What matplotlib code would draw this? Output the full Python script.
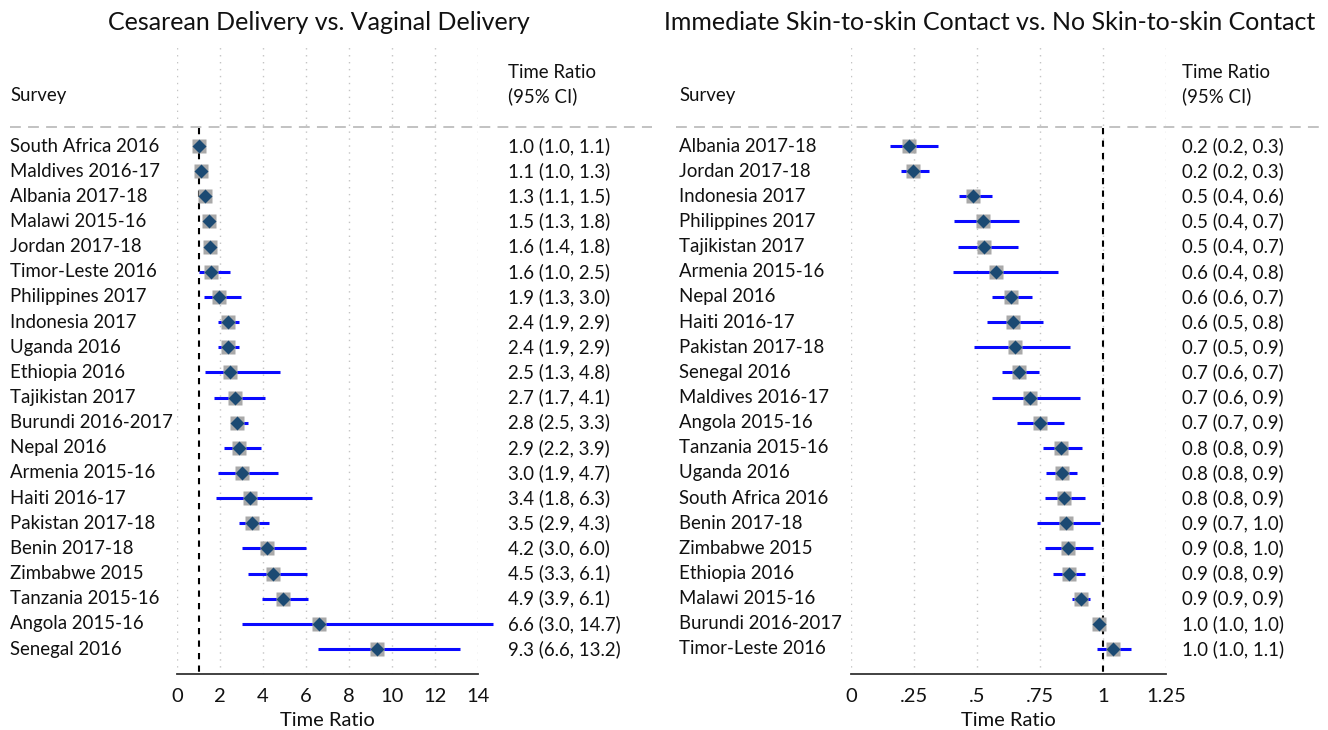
import matplotlib
matplotlib.use("Agg")
import matplotlib.pyplot as plt
import matplotlib.transforms as mtransforms

W, H = 1328, 730

# ---------------- data ----------------
left_surveys = ["South Africa 2016", "Maldives 2016-17", "Albania 2017-18", "Malawi 2015-16",
                "Jordan 2017-18", "Timor-Leste 2016", "Philippines 2017", "Indonesia 2017",
                "Uganda 2016", "Ethiopia 2016", "Tajikistan 2017", "Burundi 2016-2017",
                "Nepal 2016", "Armenia 2015-16", "Haiti 2016-17", "Pakistan 2017-18",
                "Benin 2017-18", "Zimbabwe 2015", "Tanzania 2015-16", "Angola 2015-16",
                "Senegal 2016"]
left_est = [1.04, 1.10, 1.30, 1.50, 1.53, 1.57, 1.94, 2.36, 2.35, 2.48, 2.68, 2.80,
            2.90, 3.00, 3.40, 3.50, 4.20, 4.48, 4.91, 6.62, 9.32]
left_lo = [1.00, 1.00, 1.10, 1.30, 1.40, 1.04, 1.27, 1.92, 1.90, 1.30, 1.70, 2.50,
           2.20, 1.90, 1.80, 2.90, 3.00, 3.32, 3.95, 3.00, 6.57]
left_hi = [1.10, 1.30, 1.50, 1.77, 1.80, 2.47, 2.96, 2.90, 2.90, 4.80, 4.10, 3.30,
           3.90, 4.70, 6.30, 4.30, 6.00, 6.03, 6.10, 14.70, 13.16]
left_ci_text = ["1.0 (1.0, 1.1)", "1.1 (1.0, 1.3)", "1.3 (1.1, 1.5)", "1.5 (1.3, 1.8)",
                "1.6 (1.4, 1.8)", "1.6 (1.0, 2.5)", "1.9 (1.3, 3.0)", "2.4 (1.9, 2.9)",
                "2.4 (1.9, 2.9)", "2.5 (1.3, 4.8)", "2.7 (1.7, 4.1)", "2.8 (2.5, 3.3)",
                "2.9 (2.2, 3.9)", "3.0 (1.9, 4.7)", "3.4 (1.8, 6.3)", "3.5 (2.9, 4.3)",
                "4.2 (3.0, 6.0)", "4.5 (3.3, 6.1)", "4.9 (3.9, 6.1)", "6.6 (3.0, 14.7)",
                "9.3 (6.6, 13.2)"]
left_ticks = [0, 2, 4, 6, 8, 10, 12, 14]
left_ticklabels = ["0", "2", "4", "6", "8", "10", "12", "14"]

right_surveys = ["Albania 2017-18", "Jordan 2017-18", "Indonesia 2017", "Philippines 2017",
                 "Tajikistan 2017", "Armenia 2015-16", "Nepal 2016", "Haiti 2016-17",
                 "Pakistan 2017-18", "Senegal 2016", "Maldives 2016-17", "Angola 2015-16",
                 "Tanzania 2015-16", "Uganda 2016", "South Africa 2016", "Benin 2017-18",
                 "Zimbabwe 2015", "Ethiopia 2016", "Malawi 2015-16", "Burundi 2016-2017",
                 "Timor-Leste 2016"]
right_est = [0.230, 0.246, 0.484, 0.524, 0.528, 0.574, 0.635, 0.643, 0.650, 0.667, 0.710,
             0.750, 0.833, 0.837, 0.845, 0.853, 0.860, 0.865, 0.911, 0.984, 1.040]
right_lo = [0.155, 0.198, 0.430, 0.409, 0.423, 0.404, 0.560, 0.540, 0.490, 0.600, 0.560,
            0.660, 0.760, 0.775, 0.770, 0.740, 0.770, 0.800, 0.877, 0.975, 0.975]
right_hi = [0.345, 0.309, 0.560, 0.667, 0.663, 0.822, 0.720, 0.760, 0.870, 0.746, 0.910,
            0.845, 0.917, 0.897, 0.930, 0.990, 0.960, 0.930, 0.948, 0.990, 1.110]
right_ci_text = ["0.2 (0.2, 0.3)", "0.2 (0.2, 0.3)", "0.5 (0.4, 0.6)", "0.5 (0.4, 0.7)",
                 "0.5 (0.4, 0.7)", "0.6 (0.4, 0.8)", "0.6 (0.6, 0.7)", "0.6 (0.5, 0.8)",
                 "0.7 (0.5, 0.9)", "0.7 (0.6, 0.7)", "0.7 (0.6, 0.9)", "0.7 (0.7, 0.9)",
                 "0.8 (0.8, 0.9)", "0.8 (0.8, 0.9)", "0.8 (0.8, 0.9)", "0.9 (0.7, 1.0)",
                 "0.9 (0.8, 1.0)", "0.9 (0.8, 0.9)", "0.9 (0.9, 0.9)", "1.0 (1.0, 1.0)",
                 "1.0 (1.0, 1.1)"]
right_ticks = [0, 0.25, 0.5, 0.75, 1, 1.25]
right_ticklabels = ["0", ".25", ".5", ".75", "1", "1.25"]

titles = ["Cesarean Delivery vs. Vaginal Delivery",
          "Immediate Skin-to-skin Contact vs. No Skin-to-skin Contact"]

# ---------------- style ----------------
FONT = "Lato"
TXT = "#111111"
FS = 13.4
FS_AX = 14.5
plt.rcParams["font.family"] = [FONT, "DejaVu Sans"]

fig = plt.figure(figsize=(W / 100, H / 100), dpi=100)
fig.patch.set_facecolor("white")

TOP_PX, BOT_PX = 45, 674
ROW0_PX, ROW_STEP = 146, 25.15
y_top = (TOP_PX - ROW0_PX) / ROW_STEP
y_bot = (BOT_PX - ROW0_PX) / ROW_STEP


def ypix(p):
    return (p - ROW0_PX) / ROW_STEP


panels = [
    dict(x0=177, x1=478, xlim=(0, 14), surveys=left_surveys, est=left_est, lo=left_lo,
         hi=left_hi, ci=left_ci_text, ticks=left_ticks, tl=left_ticklabels,
         label_x=10, ci_x=508, dash=(10, 652), title=titles[0], title_x=319),
    dict(x0=851, x1=1166, xlim=(0, 1.25), surveys=right_surveys, est=right_est, lo=right_lo,
         hi=right_hi, ci=right_ci_text, ticks=right_ticks, tl=right_ticklabels,
         label_x=679, ci_x=1182, dash=(676, 1326), title=titles[1], title_x=990),
]

for p in panels:
    ax = fig.add_axes([p["x0"] / W, 1 - BOT_PX / H, (p["x1"] - p["x0"]) / W,
                       (BOT_PX - TOP_PX) / H])
    ax.set_xlim(*p["xlim"])
    ax.set_ylim(y_bot, y_top)
    ax.patch.set_alpha(0)
    for s in ["top", "right", "left"]:
        ax.spines[s].set_visible(False)
    ax.spines["bottom"].set_color("#333333")
    ax.spines["bottom"].set_linewidth(1.3)
    ax.set_yticks([])
    ax.set_xticks(p["ticks"])
    ax.set_xticklabels(p["tl"], fontsize=FS_AX, color=TXT)
    ax.tick_params(axis="x", length=0, pad=10)
    # x-axis title placed at the reference position
    ax.text(0.5, 1 - 726 / H, "Time Ratio", transform=mtransforms.blended_transform_factory(
        ax.transAxes, fig.transFigure), fontsize=FS_AX, color=TXT, ha="center",
        va="baseline")

    for t in p["ticks"]:
        ax.plot([t, t], [y_bot, y_top], color="#c4c4c4", lw=1.0, ls=(0, (1, 4)), zorder=0)

    n = len(p["surveys"])
    ys = list(range(n))
    # reference line at 1
    ax.plot([1, 1], [ypix(128), y_bot], color="black", lw=1.5, ls=(0, (3, 3)), zorder=1)

    ax.hlines(ys, p["lo"], p["hi"], color="#0a0aff", lw=2.2, zorder=2, clip_on=False)
    ax.plot(p["est"], ys, ls="none", marker="s", ms=9.5, color="#a9a9a9", mec="none",
            zorder=3, clip_on=False)
    ax.plot(p["est"], ys, ls="none", marker="D", ms=6.8, color="#1b4a73", mec="none",
            zorder=4, clip_on=False)

    tr = mtransforms.blended_transform_factory(fig.transFigure, ax.transData)
    for i, (s, c) in enumerate(zip(p["surveys"], p["ci"])):
        ax.text(p["label_x"] / W, i, s, transform=tr, fontsize=FS, color=TXT,
                va="center", ha="left")
        ax.text(p["ci_x"] / W, i, c, transform=tr, fontsize=FS, color=TXT,
                va="center", ha="left")
    ax.text(p["label_x"] / W, ypix(96), "Survey", transform=tr, fontsize=FS, color=TXT,
            va="center", ha="left")
    ax.text(p["ci_x"] / W, ypix(72), "Time Ratio", transform=tr, fontsize=FS, color=TXT,
            va="center", ha="left")
    ax.text(p["ci_x"] / W, ypix(96), "(95% CI)", transform=tr, fontsize=FS, color=TXT,
            va="center", ha="left")
    ax.plot([p["dash"][0] / W, p["dash"][1] / W], [ypix(127), ypix(127)], transform=tr,
            color="#bdbdbd", lw=1.3, ls=(0, (6, 4)), clip_on=False, zorder=1)

    fig.text(p["title_x"] / W, 1 - 22 / H, p["title"], fontsize=18, color=TXT,
             ha="center", va="center")

fig.savefig("out.png", dpi=100, facecolor="white")
